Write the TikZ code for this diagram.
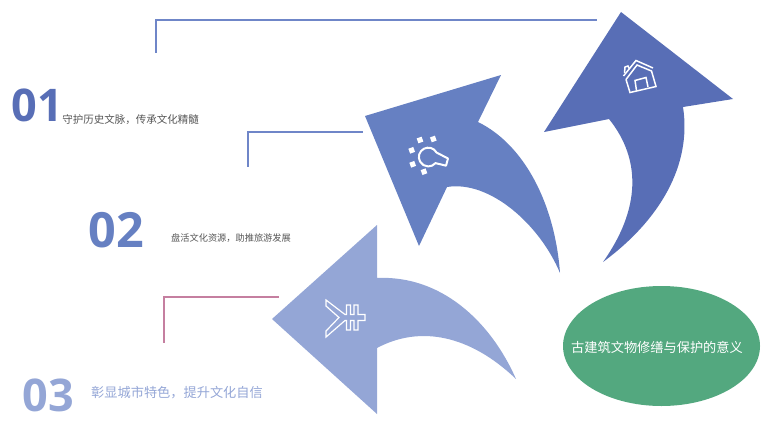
\documentclass[tikz,border=0pt]{standalone}
\usepackage{fontspec}
\setmainfont{Open Sans}
\newfontfamily\cjk{Noto Sans CJK SC}
\usepackage{xcolor}
\usetikzlibrary{shapes.geometric}
\definecolor{arrowdark}{RGB}{88, 110, 182}
\definecolor{arrowmid}{RGB}{102, 128, 194}
\definecolor{arrowlight}{RGB}{148, 166, 214}
\definecolor{ovalgreen}{RGB}{83, 168, 127}
\definecolor{leaderblue}{RGB}{111, 134, 200}
\definecolor{leaderpink}{RGB}{197, 127, 160}
\definecolor{captiongray}{RGB}{85, 85, 85}
\tikzset{
    numlabel/.style={font=\fontsize{45}{45}\selectfont\bfseries, inner sep=0pt},
    leader/.style={line width=2pt},
    iconline/.style={white, line width=1.5pt, line join=miter},
    bulbline/.style={white, line width=2pt, line join=round}
}

\begin{document}
\begin{tikzpicture}[x=1pt, y=-1pt]
    \useasboundingbox (0, 0) rectangle (762, 420);

    % Leader lines
    \coordinate (lineoneend) at (156, 52.7);
    \coordinate (lineonecorner) at (156, 20);
    \coordinate (lineonestart) at (597, 20);
    \draw[leader, leaderblue] (lineoneend) -- (lineonecorner) -- (lineonestart);
    \coordinate (linetwoend) at (248, 166.7);
    \coordinate (linetwocorner) at (248, 132);
    \coordinate (linetwostart) at (362.7, 132);
    \draw[leader, leaderblue] (linetwoend) -- (linetwocorner) -- (linetwostart);
    \coordinate (linethreeend) at (164, 342.7);
    \coordinate (linethreecorner) at (164, 297);
    \coordinate (linethreestart) at (279.3, 297);
    \draw[leader, leaderpink] (linethreeend) -- (linethreecorner) -- (linethreestart);

    % Dark arrow
    \fill[arrowdark] (621, 12) -- (733, 99) -- (683, 107)
        .. controls (692, 165) and (660, 220) .. (603, 262)
        .. controls (640, 210) and (642, 160) .. (609, 119)
        -- (544, 132) -- cycle;

    % Middle arrow
    \fill[arrowmid] (501, 75) -- (365, 116) -- (419, 246) -- (447, 187)
        .. controls (490, 180) and (540, 225) .. (560, 273)
        .. controls (555, 205) and (525, 145) .. (478, 122) -- cycle;

    % Light arrow
    \fill[arrowlight] (377, 225) -- (272, 319) -- (377, 414) -- (377, 348)
        .. controls (420, 325) and (470, 335) .. (516, 379)
        .. controls (490, 320) and (440, 275) .. (377, 278) -- cycle;

    % House
    \draw[iconline] (623.5, 76) -- (636, 60.5) -- (653, 68);
    \draw[iconline] (626, 79.5) -- (637, 65) -- (651.5, 71) -- (656, 86.5) -- (630, 92.5) -- (626, 79.5);
    \draw[iconline] (636.5, 90.5) -- (635, 80.5) -- (646, 77.5) -- (648, 87);
    \draw[iconline] (624.5, 73) -- (625, 67) -- (628, 66) -- (629.5, 69);

    % Bulb
    \draw[bulbline] (436.5, 152.5) arc[start angle=-29, end angle=-320, radius=9.4]
        -- (446, 165.7) -- (448, 158.5) -- (436.5, 152.5);
    \foreach \rx/\ry in {420/140, 433.3/139, 411.7/150.3, 412.7/164.3, 424/171.7}
        \fill[white, shift={(\rx, \ry)}, rotate=20] (-2.6, -2.6) rectangle (2.6, 2.6);

    % Yuan
    \draw[white, fill=arrowlight, line width=1.2pt, line join=miter]
        (326, 300) -- (345, 314.5) -- (346.5, 314.5) -- (346.5, 305) -- (350.5, 305)
        -- (350.5, 314.5) -- (354, 314.5) -- (354, 305) -- (358, 305) -- (358, 314.5)
        -- (365, 314.5) -- (365, 320.5) -- (358, 320.5) -- (358, 330) -- (354, 330)
        -- (354, 320.5) -- (350.5, 320.5) -- (350.5, 330) -- (346.5, 330) -- (346.5, 320.5)
        -- (345, 320.5) -- (326, 337) -- (326, 331) -- (339, 317.5) -- (326, 306) -- cycle;

    % Oval
    \node[ellipse, fill=ovalgreen, minimum width=197pt, minimum height=120pt, inner sep=0pt] (oval) at (661.5, 346) {};
    \node[font=\cjk\fontsize{13.2}{13.2}\selectfont, text=white, inner sep=0pt] (ovaltext) at (657, 347) {古建筑文物修缮与保护的意义};

    % Numbers
    \node[numlabel, text=arrowdark] (numone) at (37, 105) {01};
    \node[numlabel, text=arrowmid, font=\fontsize{48.5}{48.5}\selectfont\bfseries] (numtwo) at (116, 230.5) {02};
    \node[numlabel, text=arrowlight] (numthree) at (48.5, 395) {03};

    % Captions
    \node[font=\cjk\fontsize{10.5}{10.5}\selectfont, text=captiongray, inner sep=0pt] (captionone) at (130.5, 120) {守护历史文脉，传承文化精髓};
    \node[font=\cjk\fontsize{9.2}{9.2}\selectfont, text=captiongray, inner sep=0pt] (captiontwo) at (231, 238) {盘活文化资源，助推旅游发展};
    \node[font=\cjk\fontsize{13.2}{13.2}\selectfont, text=arrowlight, inner sep=0pt] (captionthree) at (177, 393) {彰显城市特色，提升文化自信};
\end{tikzpicture}
\end{document}
